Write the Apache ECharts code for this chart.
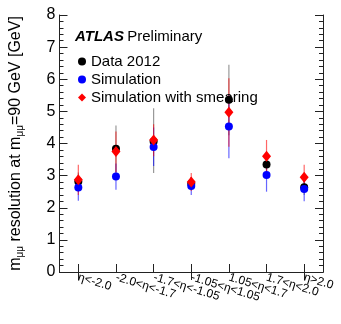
<!DOCTYPE html>
<html>
<head>
<meta charset="utf-8">
<script src="https://cdn.jsdelivr.net/npm/echarts@6/dist/echarts.min.js"></script>
<style>
  html, body { margin: 0; padding: 0; background: #fff; }
  #box { width: 341px; height: 324px; }
</style>
</head>
<body>
<div id="box"></div>
<script>
// eta bins
const categories = ['η<-2.0', '-2.0<η<-1.7', '-1.7<η<-1.05', '-1.05<η<1.05', '1.05<η<1.7', '1.7<η<2.0', 'η>2.0'];

// Data 2012
const dataVal  = [2.82, 3.84, 4.06, 2.75, 5.36, 3.35, 2.64];
const dataLow  = [2.50, 3.10, 3.08, 2.55, 4.26, 3.00, 2.40];
const dataHigh = [3.10, 4.56, 5.10, 2.95, 6.45, 3.70, 2.90];

// Simulation
const simVal  = [2.63, 2.97, 3.89, 2.68, 4.53, 3.02, 2.58];
const simLow  = [2.22, 2.56, 3.30, 2.40, 3.54, 2.50, 2.20];
const simHigh = [3.00, 3.38, 4.50, 2.96, 5.50, 3.55, 2.96];

// Simulation with smearing
const smearVal  = [2.87, 3.75, 4.11, 2.80, 4.97, 3.60, 2.95];
const smearLow  = [2.40, 3.10, 3.60, 2.52, 3.90, 3.10, 2.55];
const smearHigh = [3.34, 4.37, 4.60, 3.08, 6.03, 4.11, 3.34];

const yTicks = [0, 8, 1]; // min, max, interval

let myChart = echarts.init(document.getElementById('box'));

// error bar as a vertical line drawn through the axes
function errBar(name, low, high, color) {
  return {
    name: name,
    type: 'custom',
    z: 2,
    silent: true,
    data: low.map((l, i) => [i, l, high[i]]),
    renderItem: function (params, api) {
      let p1 = api.coord([api.value(0), api.value(1)]);
      let p2 = api.coord([api.value(0), api.value(2)]);
      return {
        type: 'line',
        shape: { x1: p1[0], y1: p1[1], x2: p2[0], y2: p2[1] },
        style: { stroke: color, lineWidth: 1.2, opacity: 0.6 }
      };
    }
  };
}

let axisLine = { show: true, lineStyle: { color: '#222', width: 1 } };

let option = {
  animation: false,
  grid: { left: 55, right: 18, top: 15, bottom: 52 },
  legend: {
    orient: 'vertical',
    left: 73,
    top: 49,
    itemWidth: 8,
    itemHeight: 8,
    itemGap: 3,
    textStyle: { fontFamily: 'Liberation Sans', fontSize: 15, color: '#000' },
    data: [
      { name: 'Data 2012', icon: 'circle' },
      { name: 'Simulation', icon: 'circle' },
      { name: 'Simulation with smearing', icon: 'diamond' }
    ]
  },
  graphic: [{
    type: 'text',
    left: 75,
    top: 29,
    style: {
      text: '{b|ATLAS} {n|Preliminary}',
      rich: {
        b: { fontFamily: 'Liberation Sans', fontSize: 15, fontWeight: 'bold', fontStyle: 'italic', fill: '#000' },
        n: { fontFamily: 'Liberation Sans', fontSize: 15, fill: '#000' }
      }
    }
  }],
  xAxis: [
    {
      type: 'category',
      data: categories,
      position: 'bottom',
      axisLine: axisLine,
      axisTick: { show: true, inside: true, alignWithLabel: true, length: 8, lineStyle: { color: '#222' } },
      axisLabel: { rotate: -17, margin: 5, fontFamily: 'Liberation Sans', fontSize: 12, color: '#000', interval: 0 },
      splitLine: { show: false }
    },
    {
      type: 'category',
      data: categories,
      position: 'top',
      axisLine: axisLine,
      axisTick: { show: true, inside: true, alignWithLabel: true, length: 8, lineStyle: { color: '#222' } },
      axisLabel: { show: false },
      splitLine: { show: false }
    }
  ],
  yAxis: [
    {
      type: 'value',
      min: yTicks[0],
      max: yTicks[1],
      interval: yTicks[2],
      position: 'left',
      axisLine: axisLine,
      axisTick: { show: true, inside: true, length: 8, lineStyle: { color: '#222' } },
      minorTick: { show: true, splitNumber: 5, length: 4, lineStyle: { color: '#222' } },
      axisLabel: { margin: 4, fontFamily: 'Liberation Sans', fontSize: 16, color: '#000' },
      splitLine: { show: false },
      name: '{t|m}{s|μμ}{t| resolution at m}{s|μμ}{t|=90 GeV [GeV]}',
      nameLocation: 'middle',
      nameRotate: 90,
      nameGap: 34,
      nameTextStyle: {
        rich: {
          t: { fontFamily: 'Liberation Sans', fontSize: 16, color: '#000' },
          s: { fontFamily: 'Liberation Sans', fontSize: 10, color: '#000', padding: [9, 0, 0, 0] }
        }
      }
    },
    {
      type: 'value',
      min: yTicks[0],
      max: yTicks[1],
      interval: yTicks[2],
      position: 'right',
      axisLine: axisLine,
      axisTick: { show: true, inside: true, length: 8, lineStyle: { color: '#222' } },
      minorTick: { show: true, splitNumber: 5, length: 4, lineStyle: { color: '#222' } },
      axisLabel: { show: false },
      splitLine: { show: false }
    }
  ],
  series: [
    errBar('Data 2012', dataLow, dataHigh, '#555'),
    errBar('Simulation', simLow, simHigh, '#0000ff'),
    errBar('Simulation with smearing', smearLow, smearHigh, '#ff0000'),
    {
      name: 'Data 2012', type: 'scatter', symbol: 'circle', symbolSize: 8, z: 3,
      itemStyle: { color: '#000', opacity: 1 },
      data: dataVal
    },
    {
      name: 'Simulation', type: 'scatter', symbol: 'circle', symbolSize: 8, z: 4,
      itemStyle: { color: '#0000ff', opacity: 1 },
      data: simVal
    },
    {
      name: 'Simulation with smearing', type: 'scatter', symbol: 'diamond', symbolSize: [9, 11], z: 5,
      itemStyle: { color: '#ff0000', opacity: 1 },
      data: smearVal
    }
  ],
  color: ['#000', '#0000ff', '#ff0000']
};

myChart.setOption(option);
</script>
</body>
</html>
